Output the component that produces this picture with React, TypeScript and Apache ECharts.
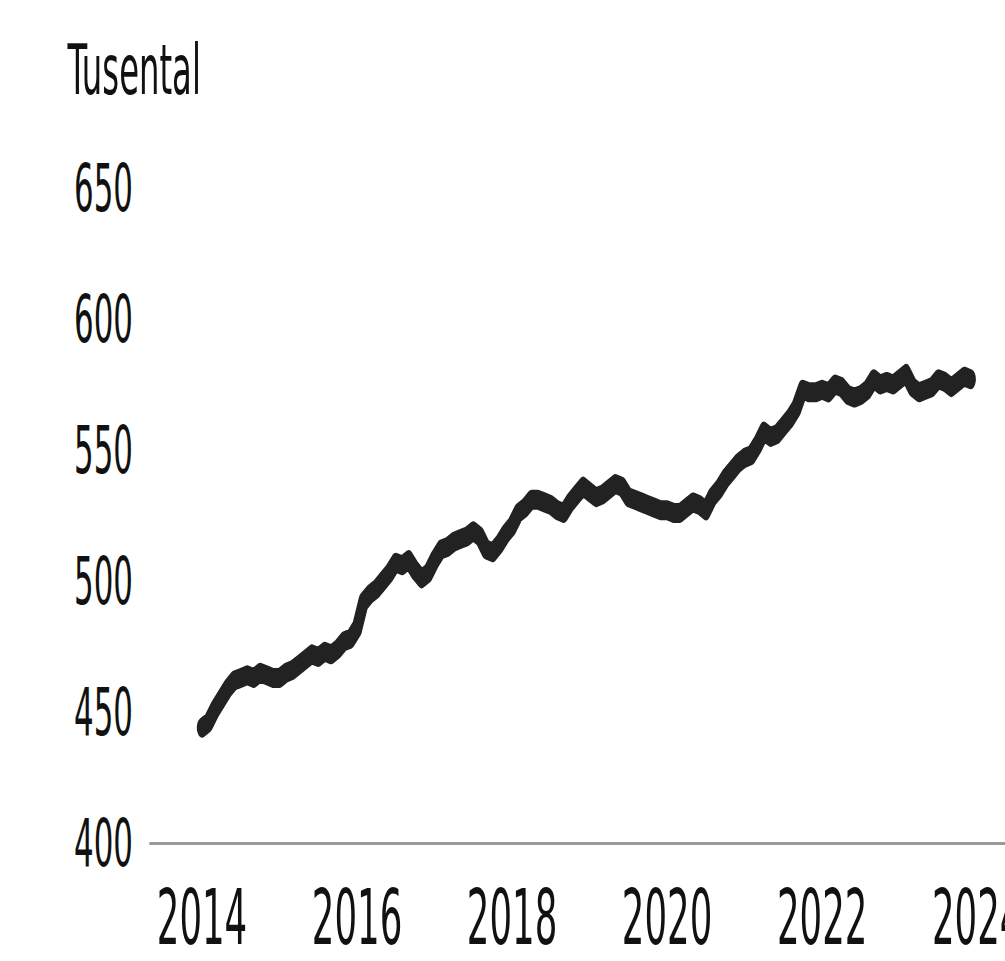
import React, { useEffect, useRef } from "react";
import * as echarts from "echarts";

// Monthly values (thousands), January to December of each year
const values2014 = [444, 446, 451, 455, 459, 462, 463, 464, 463, 465, 464, 463];
const values2015 = [463, 465, 466, 468, 470, 472, 471, 473, 472, 474, 477, 478];
const values2016 = [482, 492, 495, 497, 500, 503, 507, 506, 508, 504, 501, 503];
const values2017 = [508, 512, 513, 515, 516, 517, 519, 517, 512, 511, 514, 518];
const values2018 = [521, 526, 528, 531, 531, 530, 529, 527, 526, 530, 533, 536];
const values2019 = [534, 532, 533, 535, 537, 536, 532, 531, 530, 529, 528, 527];
const values2020 = [527, 526, 526, 528, 530, 529, 527, 532, 535, 539, 542, 545];
const values2021 = [547, 548, 552, 557, 555, 556, 559, 562, 566, 573, 572, 572];
const values2022 = [573, 572, 575, 574, 571, 570, 571, 573, 577, 575, 576, 575];
const values2023 = [577, 579, 574, 572, 573, 574, 577, 576, 574, 576, 578, 577];

const years = [2014, 2015, 2016, 2017, 2018, 2019, 2020, 2021, 2022, 2023];
const yearlyValues = [
  values2014, values2015, values2016, values2017, values2018,
  values2019, values2020, values2021, values2022, values2023,
];
const xTickLabels = [2014, 2016, 2018, 2020, 2022, 2024];
const yTickLabels = [400, 450, 500, 550, 600, 650];
const unitLabel = "Tusental";

const SX = 0.52;
const W = 1005;
const H = 961;
const INNER_W = Math.round(W / SX);
const FONT = "'DejaVu Sans Condensed', 'Liberation Sans Narrow', 'Liberation Sans', sans-serif";

export default function App() {
  const ref = useRef<HTMLDivElement>(null);

  useEffect(() => {
    if (!ref.current) return;
    const chart = echarts.init(ref.current, null, {
      renderer: "svg",
      width: INNER_W,
      height: H,
    });
    const data: [number, number][] = [];
    years.forEach((y, i) => {
      yearlyValues[i].forEach((v, m) => data.push([y + m / 12, v]));
    });
    chart.setOption({
      animation: false,
      backgroundColor: "#ffffff",
      title: {
        text: unitLabel,
        left: 65 / SX,
        top: 31,
        textStyle: { fontFamily: FONT, fontSize: 69, fontWeight: "normal", color: "#111" },
      },
      grid: {
        left: 150 / SX,
        right: 0,
        top: 188,
        bottom: 118,
        containLabel: false,
        outerBoundsMode: "none",
      },
      xAxis: {
        type: "value",
        min: 2014 - 52 / 77.5,
        max: 2014 + (W - 202) / 77.5,
        axisLine: { show: true, lineStyle: { color: "#9a9a9a", width: 3 } },
        axisTick: { show: false },
        splitLine: { show: false },
        axisLabel: {
          customValues: xTickLabels,
          formatter: (v: number) => String(Math.round(v)),
          fontFamily: FONT,
          fontSize: 76,
          color: "#111",
          margin: 37,
          hideOverlap: false,
        },
      },
      yAxis: {
        type: "value",
        min: yTickLabels[0],
        max: yTickLabels[yTickLabels.length - 1],
        interval: 50,
        axisLine: { show: false },
        axisTick: { show: false },
        splitLine: { show: false },
        axisLabel: {
          fontFamily: FONT,
          fontSize: 66,
          color: "#111",
          margin: 17 / SX,
        },
      },
      series: [
        {
          type: "line",
          data,
          showSymbol: false,
          symbol: "none",
          lineStyle: { color: "#222222", width: 20, cap: "round", join: "round" },
        },
      ],
    });
    return () => chart.dispose();
  }, []);

  return (
    <div
      style={{
        position: "fixed",
        left: 0,
        top: 0,
        width: W,
        height: H,
        overflow: "hidden",
        background: "#fff",
      }}
    >
      <div
        ref={ref}
        style={{
          width: INNER_W,
          height: H,
          transform: `scaleX(${SX})`,
          transformOrigin: "0 0",
        }}
      />
    </div>
  );
}
